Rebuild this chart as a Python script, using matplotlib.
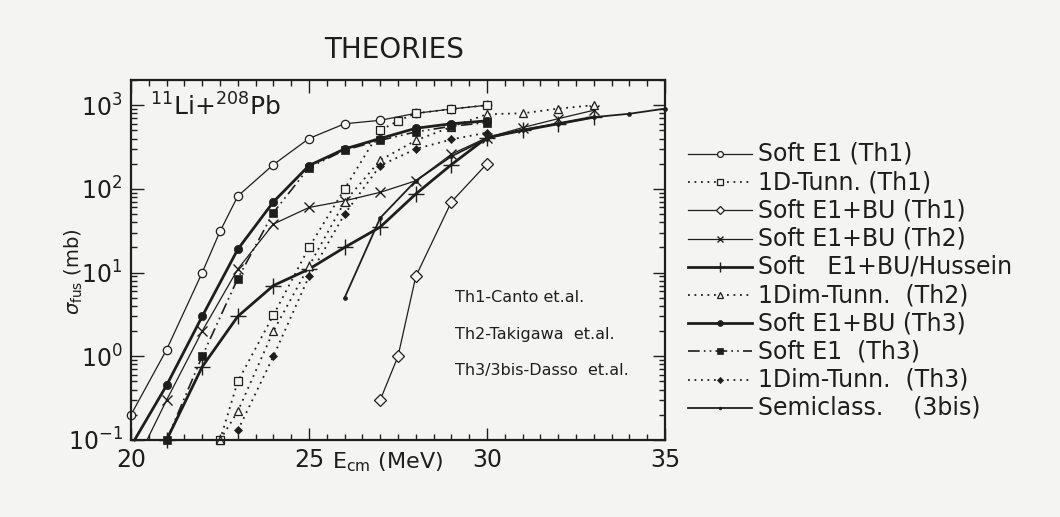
import matplotlib
matplotlib.use("Agg")
import matplotlib.pyplot as plt
from matplotlib.lines import Line2D
from matplotlib.ticker import LogLocator, MultipleLocator, NullFormatter

plt.rcParams['font.family'] = ['DejaVu Sans']
plt.rcParams['mathtext.fontset'] = 'dejavusans'

# ---- fusion cross sections (mb) vs E_cm (MeV) ----
e_soft_th1 = [20, 21, 22, 22.5, 23, 24, 25, 26, 27, 28, 29, 30]
s_soft_th1 = [0.2, 1.2, 10, 31, 82, 195, 400, 600, 660, 800, 900, 1000]

e_tunn_th1 = [22.5, 23, 24, 25, 26, 27, 27.5, 28, 29, 30]
s_tunn_th1 = [0.1, 0.5, 3.1, 20, 100, 500, 650, 800, 900, 1000]

e_bu_th1 = [27, 27.5, 28, 29, 30]
s_bu_th1 = [0.3, 1.0, 9, 70, 200]

e_bu_th2 = [20.45, 21, 22, 23, 24, 25, 26, 27, 28, 29, 30, 31, 32, 33]
s_bu_th2 = [0.1, 0.3, 2.0, 11, 38, 60, 72, 91, 125, 260, 410, 540, 690, 870]

e_hussein = [21, 22, 23, 24, 25, 26, 27, 28, 29, 30, 31, 32, 33]
s_hussein = [0.1, 0.75, 3, 7, 11, 20, 35, 87, 195, 410, 500, 600, 720]

e_tunn_th2 = [22.5, 23, 24, 25, 26, 27, 28, 29, 30, 31, 32, 33]
s_tunn_th2 = [0.1, 0.22, 2.0, 12, 70, 220, 380, 550, 780, 800, 910, 1000]

e_bu_th3 = [20.1, 21, 22, 23, 24, 25, 26, 27, 28, 29, 30]
s_bu_th3 = [0.1, 0.45, 3, 19, 70, 190, 300, 400, 530, 600, 650]

e_soft_th3 = [21, 22, 23, 24, 25, 26, 27, 28, 29, 30]
s_soft_th3 = [0.1, 1.0, 8.5, 52, 180, 290, 380, 480, 560, 620]

e_tunn_th3 = [23, 24, 25, 26, 27, 28, 29, 30]
s_tunn_th3 = [0.13, 1.0, 9, 50, 190, 300, 390, 470]

e_semi = [26, 27, 28, 29, 30, 31, 32, 33, 34, 35]
s_semi = [5, 45, 125, 245, 400, 510, 600, 720, 790, 910]

labels = ["Soft E1 (Th1)", "1D-Tunn. (Th1)", "Soft E1+BU (Th1)",
          "Soft E1+BU (Th2)", "Soft   E1+BU/Hussein", "1Dim-Tunn.  (Th2)",
          "Soft E1+BU (Th3)", "Soft E1  (Th3)", "1Dim-Tunn.  (Th3)",
          "Semiclass.    (3bis)"]

ink = '#1e1e1e'
bg = '#f4f4f2'
dots = (0, (1.0, 2.6))

styles = [
    dict(ls='-', lw=0.9, marker='o', ms=6, mfc=bg, mew=0.9),
    dict(ls=dots, lw=1.3, marker='s', ms=6, mfc=bg, mew=0.9),
    dict(ls='-', lw=0.9, marker='D', ms=6, mfc=bg, mew=0.9),
    dict(ls='-', lw=0.9, marker='x', ms=7, mew=1.0),
    dict(ls='-', lw=2.0, marker='+', ms=11, mew=1.0),
    dict(ls=dots, lw=1.3, marker='^', ms=5.5, mfc=bg, mew=0.9),
    dict(ls='-', lw=2.0, marker='o', ms=6, mfc=ink, mew=0.5),
    dict(ls=(0, (7, 2.5, 1, 2.5, 1, 2.5)), lw=1.2, marker='s', ms=5.5, mfc=ink, mew=0.5),
    dict(ls=dots, lw=1.3, marker='D', ms=4.5, mfc=ink, mew=0.5),
    dict(ls='-', lw=1.3, marker='o', ms=2.8, mfc=ink, mew=0.5),
]
marks = [None, None, None, slice(1, None), None, None,
         slice(1, None), None, None, None]
series = [(e_soft_th1, s_soft_th1), (e_tunn_th1, s_tunn_th1),
          (e_bu_th1, s_bu_th1), (e_bu_th2, s_bu_th2),
          (e_hussein, s_hussein), (e_tunn_th2, s_tunn_th2),
          (e_bu_th3, s_bu_th3), (e_soft_th3, s_soft_th3),
          (e_tunn_th3, s_tunn_th3), (e_semi, s_semi)]

W, H = 1060, 517
fig = plt.figure(figsize=(W / 100, H / 100), dpi=100, facecolor=bg)
ax = fig.add_axes([131 / W, 77 / H, 534 / W, 360 / H], facecolor=bg)

for (e, s), st, mk in zip(series, styles, marks):
    ax.plot(e, s, color=ink, mec=ink, markevery=mk, clip_on=False, **st)

ax.set_yscale('log')
ax.set_xlim(20, 35)
ax.set_ylim(0.1, 2000)
ax.xaxis.set_major_locator(MultipleLocator(5))
ax.xaxis.set_minor_locator(MultipleLocator(0.5))
ax.yaxis.set_major_locator(LogLocator(base=10, numticks=10))
ax.yaxis.set_minor_locator(LogLocator(base=10, subs=range(2, 10), numticks=10))
ax.yaxis.set_minor_formatter(NullFormatter())
ax.tick_params(which='both', direction='in', top=True, right=True,
               color=ink, width=1.0)
ax.tick_params(which='major', length=9, labelsize=17, labelcolor=ink, pad=6)
ax.tick_params(which='minor', length=4.5)
for sp in ax.spines.values():
    sp.set_color(ink)
    sp.set_linewidth(1.6)

fig.text(74 / W, 1 - 272 / H, r'$\sigma_{\rm fus}$ (mb)', rotation=90,
         ha='center', va='center', fontsize=14, color=ink)
fig.text(388 / W, 1 - 462 / H, r'E$_{\rm cm}$ (MeV)', ha='center',
         va='center', fontsize=16, color=ink)
fig.text(394 / W, 1 - 50 / H, 'THEORIES', ha='center', va='center',
         fontsize=20, color=ink)
ax.text(0.035, 0.925, r'$^{11}$Li+$^{208}$Pb', transform=ax.transAxes,
        ha='left', va='center', fontsize=18, color=ink)
for txt, yy in [('Th1-Canto et.al.', 297), ('Th2-Takigawa  et.al.', 334),
                ('Th3/3bis-Dasso  et.al.', 370)]:
    fig.text(455 / W, 1 - yy / H, txt, ha='left', va='center',
             fontsize=11.5, color=ink)

# legend drawn as short line samples with a centred marker
for i, (lab, st) in enumerate(zip(labels, styles)):
    y = 1 - (154 + 28.2 * i) / H
    kw = dict(st)
    kw['ms'] = kw['ms'] * 0.7
    ln = Line2D([688 / W, 720 / W, 752 / W], [y, y, y], color=ink, mec=ink,
                markevery=[1], transform=fig.transFigure, **kw)
    fig.add_artist(ln)
    fig.text(758 / W, y, lab, ha='left', va='center', fontsize=17, color=ink)

fig.savefig('out.png', dpi=100, facecolor=bg)
